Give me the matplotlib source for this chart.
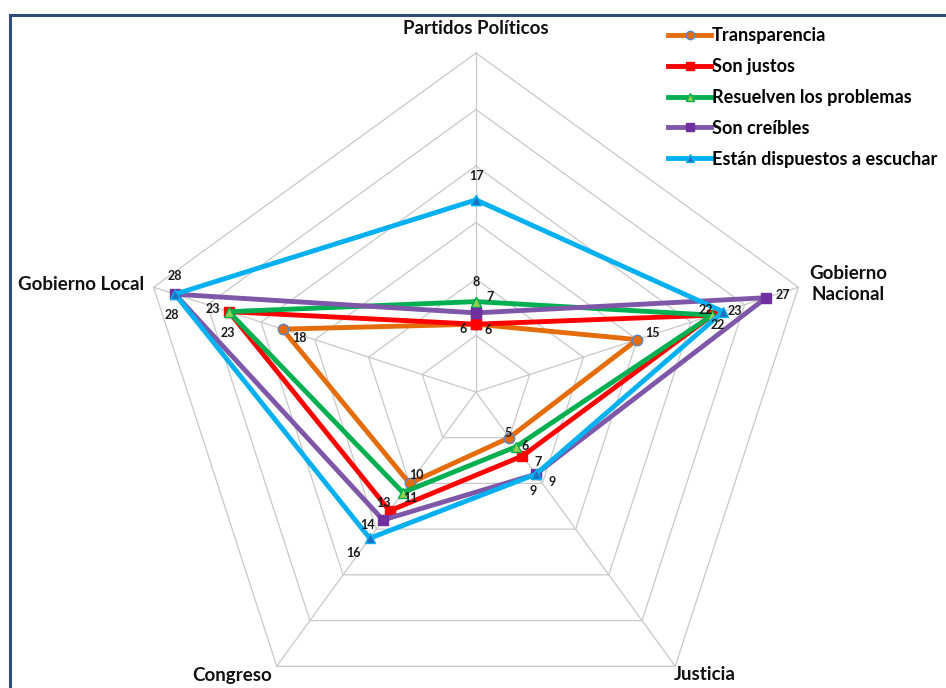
import numpy as np
import matplotlib
matplotlib.use("Agg")
import matplotlib.pyplot as plt
from matplotlib.lines import Line2D

plt.rcParams['font.family'] = ['Lato', 'DejaVu Sans']

# ejes del radar, en sentido horario desde arriba
categorias = ['Partidos Políticos', 'Gobierno\nNacional', 'Justicia', 'Congreso', 'Gobierno Local']

series = ['Transparencia', 'Son justos', 'Resuelven los problemas',
          'Son creíbles', 'Están dispuestos a escuchar']
transparencia = [6, 15, 5, 10, 18]
son_justos    = [6, 22, 7, 13, 23]
resuelven     = [8, 22, 6, 11, 23]
creibles      = [7, 27, 9, 14, 28]
escuchar      = [17, 23, 9, 16, 28]
valores = [transparencia, son_justos, resuelven, creibles, escuchar]

# estilo de cada serie: color de linea, marcador, relleno, borde
estilos = [
    ('#E46C0A', 'o', '#E46C0A', '#5B86C5'),
    ('#FF0000', 's', '#FF0000', '#FF0000'),
    ('#00B050', '^', '#92D050', '#00B050'),
    ('#7F57A8', 's', '#7030A0', '#7030A0'),
    ('#00B0F0', '^', '#1F6FC0', '#00B0F0'),
]

# desplazamiento de las etiquetas de datos (px, y hacia abajo)
desp = [
    [(-13, 5), (15, -7), (-1, -5), (7, -8), (17, 9)],
    [(12, 6), (-7, -5), (16, 6), (-6, -8), (-16, -3)],
    [(0, -20), (5, 10), (9, -1), (7, 5), (-1, 21)],
    [(14, -16), (17, -3), (-3, 17), (-16, 5), (-3, 21)],
    [(0, -24), (12, -1), (16, 8), (-16, 15), (0, -18)],
]

n = len(categorias)
theta = np.arange(n) * 2 * np.pi / n
theta_c = np.append(theta, theta[0])

fig = plt.figure(figsize=(9.46, 6.88), dpi=100)
ax = fig.add_axes([0.1448, -0.0625, 0.7167, 0.9855], projection='polar')
ax.set_theta_offset(np.pi / 2)
ax.set_theta_direction(-1)
ax.set_ylim(0, 30)
ax.grid(False)
ax.spines['polar'].set_visible(False)
ax.set_xticks([])
ax.set_yticks([])
ax.patch.set_alpha(0)

# rejilla pentagonal
for r in range(5, 31, 5):
    ax.plot(theta_c, [r] * (n + 1), color='#C8C8C8', lw=0.9, zorder=1, clip_on=False)
for t in theta:
    ax.plot([t, t], [0, 30], color='#C8C8C8', lw=0.9, zorder=1, clip_on=False)

for i, vals in enumerate(valores):
    col, mk, fc, ec = estilos[i]
    ax.plot(theta_c, vals + [vals[0]], color=col, lw=3.5, zorder=3 + i,
            marker=mk, markersize=7.5, markerfacecolor=fc, markeredgecolor=ec,
            markeredgewidth=1, clip_on=False)
    for j, v in enumerate(vals):
        dx, dy = desp[i][j]
        ax.annotate(str(v), (theta[j], v), xytext=(dx * 0.72, -dy * 0.72),
                    textcoords='offset points', ha='center', va='center',
                    fontsize=9, fontweight='bold', color='#1A1A1A', zorder=10,
                    annotation_clip=False)

# nombres de las categorias
kw = dict(fontsize=13.5, fontweight='bold', color='#111111')
fig.text(476 / 946, 1 - 28 / 688, categorias[0], ha='center', va='center', **kw)
fig.text(848 / 946, 1 - 284 / 688, categorias[1], ha='center', va='center',
         linespacing=1.3, **kw)
fig.text(705 / 946, 1 - 675 / 688, categorias[2], ha='center', va='center', **kw)
fig.text(232 / 946, 1 - 675 / 688, categorias[3], ha='center', va='center', **kw)
fig.text(144 / 946, 1 - 284 / 688, categorias[4], ha='right', va='center', **kw)

# leyenda
handles = []
for i, s in enumerate(series):
    col, mk, fc, ec = estilos[i]
    handles.append(Line2D([], [], color=col, lw=3.5, marker=mk, markersize=6,
                          markerfacecolor=fc, markeredgecolor=ec))
leg = fig.legend(handles, series, loc='upper left', bbox_to_anchor=(661 / 946, 1 - 20 / 688),
                 frameon=False, handlelength=2.35, handletextpad=0.05,
                 labelspacing=0.76, borderaxespad=0,
                 prop={'family': 'Lato', 'weight': 'bold', 'size': 13.1})

# marco del grafico (lados superior e izquierdo)
fig.add_artist(Line2D([9.5 / 946, 1], [1 - 14.5 / 688] * 2, transform=fig.transFigure,
                      color='#2E4D7B', lw=2.2))
fig.add_artist(Line2D([9.5 / 946] * 2, [0, 1 - 14.5 / 688], transform=fig.transFigure,
                      color='#2E4D7B', lw=2.2))

fig.savefig('out.png', dpi=100)
